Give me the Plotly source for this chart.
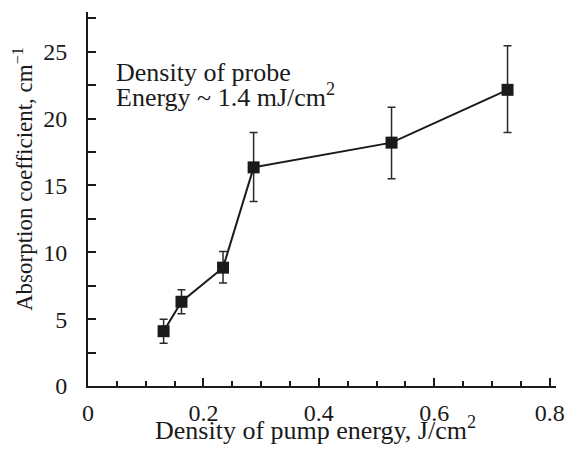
import plotly.graph_objects as go

x_vals = [0.131, 0.162, 0.234, 0.287, 0.526, 0.727]
y_vals = [4.1, 6.3, 8.85, 16.35, 18.2, 22.15]
err_plus = [0.9, 0.9, 1.2, 2.6, 2.65, 3.3]
err_minus = [0.9, 0.9, 1.15, 2.55, 2.7, 3.2]

x_tick_vals = [0, 0.2, 0.4, 0.6, 0.8]
x_tick_text = ["0", "0.2", "0.4", "0.6", "0.8"]
x_minor_vals = [0.05, 0.1, 0.15, 0.25, 0.3, 0.35, 0.45, 0.5, 0.55, 0.65, 0.7, 0.75]
y_tick_vals = [0, 5, 10, 15, 20, 25]
y_minor_vals = [2.5, 7.5, 12.5, 17.5, 22.5, 27.5]

x_title = "Density of pump energy, J/cm<sup>2</sup>"
y_title = "Absorption coefficient, cm<sup>−1</sup>"
note_line1 = "Density of probe"
note_line2 = "Energy ~ 1.4 mJ/cm<sup>2</sup>"

FONT = "Liberation Serif, Times New Roman, serif"
INK = "#1a1a1a"

fig = go.Figure()
fig.add_trace(go.Scatter(
    x=x_vals, y=y_vals, mode="lines+markers",
    line=dict(color=INK, width=2),
    marker=dict(symbol="square", size=12, color=INK),
    error_y=dict(type="data", symmetric=False, array=err_plus, arrayminus=err_minus,
                 color="#2a2a2a", thickness=1.5, width=4),
    showlegend=False,
))

fig.add_annotation(x=0.045, y=23.45, xref="x", yref="y", text=note_line1, showarrow=False,
                   xanchor="left", yanchor="middle", align="left",
                   font=dict(family=FONT, size=26, color=INK))
fig.add_annotation(x=0.045, y=21.75, xref="x", yref="y", text=note_line2, showarrow=False,
                   xanchor="left", yanchor="middle", align="left",
                   font=dict(family=FONT, size=26, color=INK))

# axis titles as annotations for precise placement
fig.add_annotation(x=0.486, y=-0.113, xref="paper", yref="paper", text=x_title, showarrow=False,
                   xanchor="center", yanchor="middle",
                   font=dict(family=FONT, size=26, color=INK))
fig.add_annotation(x=-0.138, y=0.5545, xref="paper", yref="paper", text=y_title, showarrow=False,
                   textangle=-90, xanchor="center", yanchor="middle",
                   font=dict(family=FONT, size=23, color=INK))

fig.update_layout(
    width=577, height=451,
    margin=dict(l=88, r=16, t=12, b=65),
    paper_bgcolor="white", plot_bgcolor="white",
    font=dict(family=FONT, size=24, color=INK),
)
fig.update_xaxes(
    range=[0, 0.811], tickmode="array", tickvals=x_tick_vals, ticktext=x_tick_text,
    ticks="inside", ticklen=8, tickwidth=1.5, tickcolor=INK,
    minor=dict(tickmode="array", tickvals=x_minor_vals,
               ticks="inside", ticklen=5, tickwidth=1.5, tickcolor=INK, showgrid=False),
    showline=True, linecolor=INK, linewidth=2, showgrid=False, zeroline=False,
    tickfont=dict(family=FONT, size=24, color=INK), ticklabelstandoff=4,
)
fig.update_yaxes(
    range=[0, 27.97], tickmode="array", tickvals=y_tick_vals,
    ticks="inside", ticklen=8, tickwidth=1.5, tickcolor=INK,
    minor=dict(tickmode="array", tickvals=y_minor_vals,
               ticks="inside", ticklen=8, tickwidth=1.5, tickcolor=INK, showgrid=False),
    showline=True, linecolor=INK, linewidth=2, showgrid=False, zeroline=False,
    tickfont=dict(family=FONT, size=24, color=INK), ticklabelstandoff=14,
)

fig.write_html("out.html")
